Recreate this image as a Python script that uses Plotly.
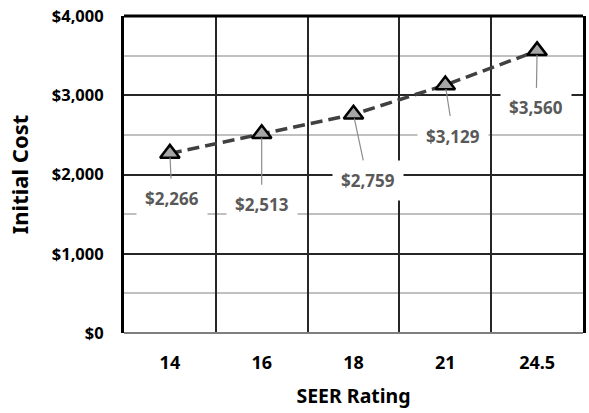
import plotly.graph_objects as go

# SEER rating categories and the matching initial cost
seer = ["14", "16", "18", "21", "24.5"]
cost = [2266, 2513, 2759, 3129, 3560]
# label offsets (pixels) from each point to its callout
label_dx = [2, 0, 14, 8, -1]
label_dy = [45, 71, 66, 51, 57]

FONT = "Noto Sans"

fig = go.Figure()
fig.add_trace(go.Scatter(
    x=seer, y=cost, mode="lines+markers",
    line=dict(color="#404040", width=3.5, dash="12px,6px"),
    marker=dict(symbol="triangle-up", size=17, color="#a6a6a6",
                line=dict(color="black", width=2.5)),
    showlegend=False, hoverinfo="skip",
))

# category axes position annotations by category index
annotations = []
for i, (yv, dx, dy) in enumerate(zip(cost, label_dx, label_dy)):
    annotations.append(dict(
        x=i, y=yv, xref="x", yref="y",
        text="<b>$" + f"{yv:,}" + "</b>", showarrow=True, arrowhead=0,
        arrowwidth=1.2, arrowcolor="#8c8c8c", ax=dx, ay=dy, standoff=4,
        bgcolor="white", borderpad=8,
        font=dict(family=FONT, size=17, color="#595959"),
    ))

fig.update_layout(
    width=589, height=413, margin=dict(l=124, r=3, t=16, b=80),
    plot_bgcolor="white", paper_bgcolor="white",
    font=dict(family=FONT, color="black"),
    annotations=annotations,
    shapes=[dict(type="line", xref="paper", yref="paper", x0=0, x1=1, y0=1, y1=1,
                 line=dict(color="black", width=3))],
    xaxis=dict(
        type="category", tickson="boundaries", showgrid=True,
        gridcolor="#262626", gridwidth=1.5, ticks="", showline=False,
        tickfont=dict(family=FONT, size=18),
        ticklabelstandoff=17,
        title=dict(text="<b>SEER Rating</b>", standoff=16,
                   font=dict(family=FONT, size=19.5)),
        range=[-0.5, 4.5],
    ),
    yaxis=dict(
        range=[0, 4000], dtick=1000, tickprefix="<b>$", ticksuffix="</b>", tickformat=",",
        showgrid=True, gridcolor="#262626", gridwidth=1.5,
        minor=dict(dtick=500, showgrid=True, gridcolor="#c0c0c0", gridwidth=1.5),
        zeroline=True, zerolinecolor="#7f7f7f", zerolinewidth=2,
        showline=True, mirror=True, linecolor="black", linewidth=3,
        ticks="", ticklabelstandoff=14,
        tickfont=dict(family=FONT, size=16.5),
        title=dict(text="<b>Initial Cost</b>", standoff=18,
                   font=dict(family=FONT, size=22)),
    ),
)
fig.update_xaxes(ticktext=["<b>" + s + "</b>" for s in seer], tickvals=seer)

fig.write_html("out.html")
